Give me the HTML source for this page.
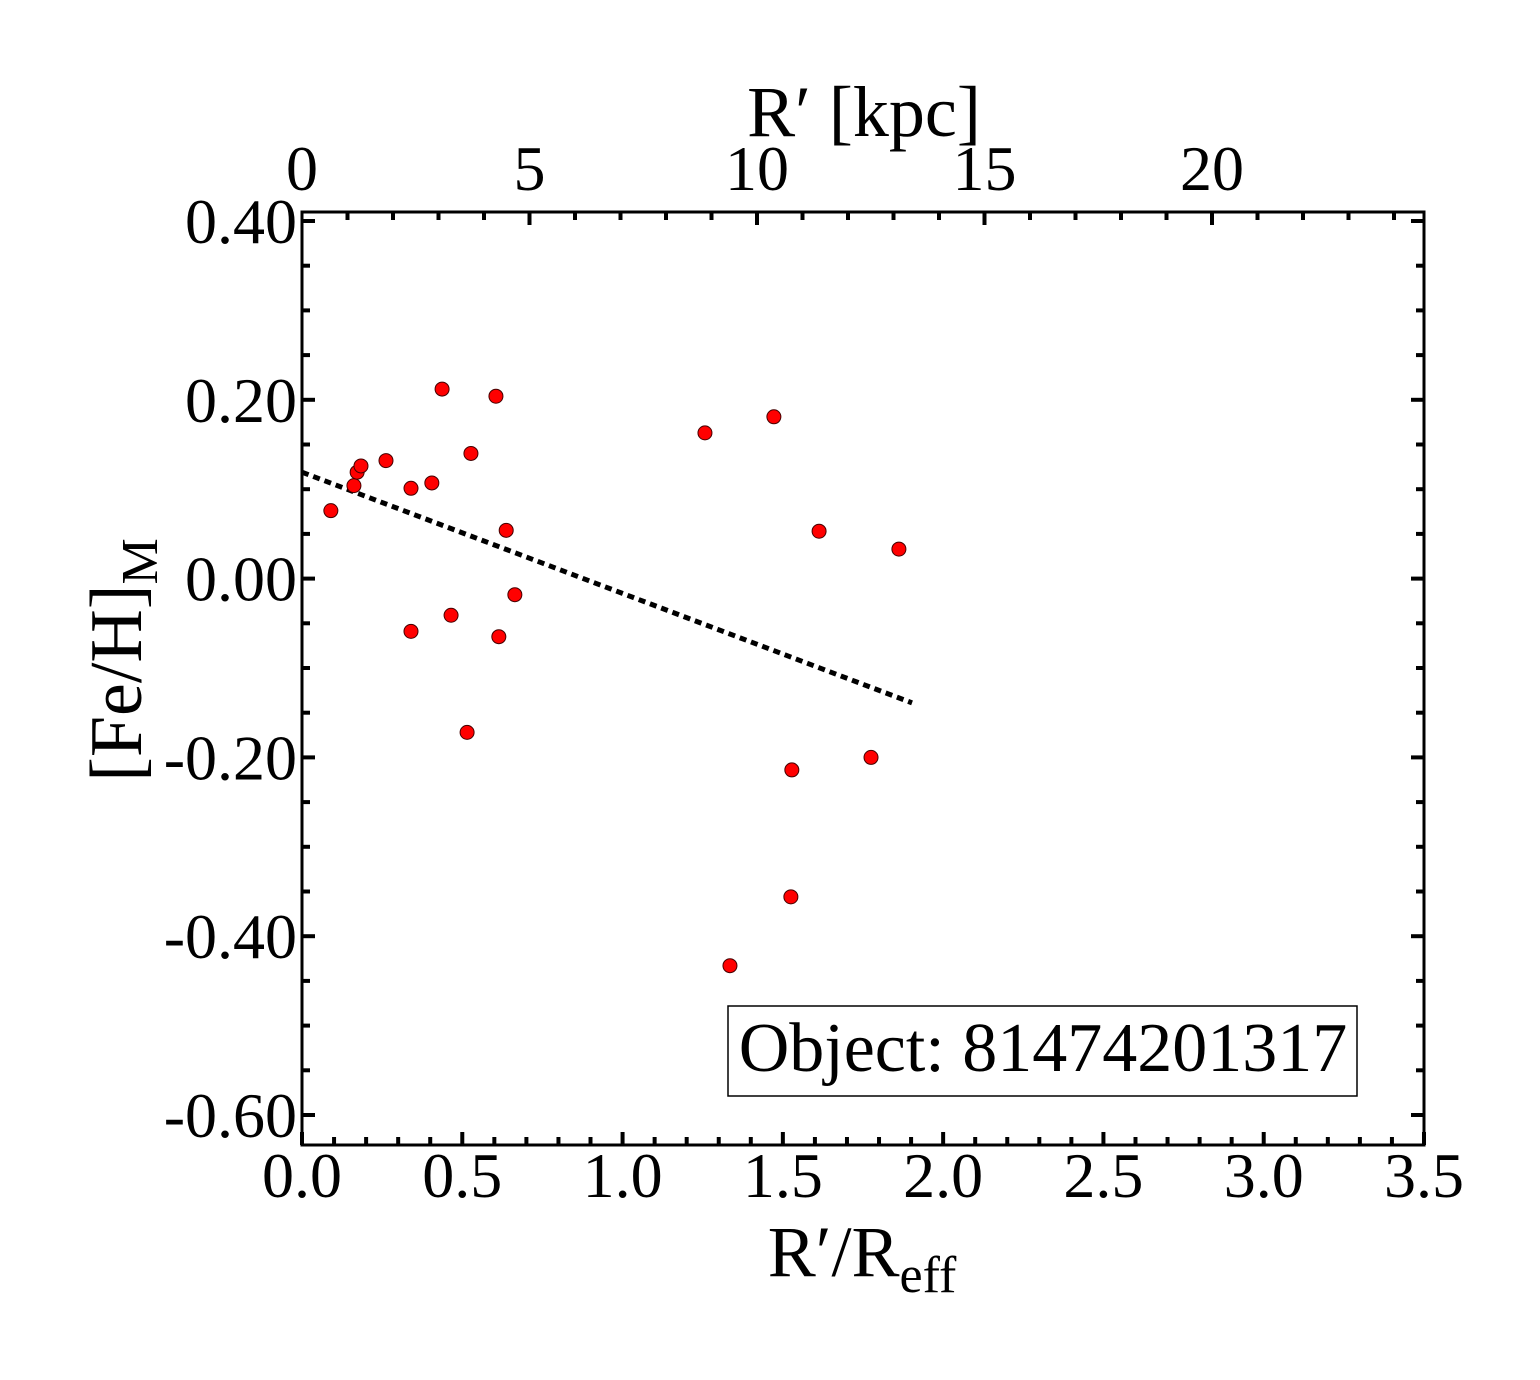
<!DOCTYPE html>
<html><head><meta charset="utf-8"><style>
body{margin:0;background:#fff}
svg text{font-family:"Liberation Serif",serif;fill:#000}
</style></head><body>
<svg id="chart" width="1540" height="1375" xmlns="http://www.w3.org/2000/svg">
<rect width="1540" height="1375" fill="#fff"/>
<g id="ticks"></g>
<g id="labels"></g>
<line id="fit" stroke="#000" stroke-width="5" stroke-dasharray="7,5"/>
<g id="pts"></g>
<rect x="302" y="212" width="1122" height="933" fill="none" stroke="#000" stroke-width="3"/>
<text x="864" y="136" font-size="72" text-anchor="middle">R′ [kpc]</text>
<text x="862" y="1276" font-size="72" text-anchor="middle">R′/R<tspan font-size="52" dy="16">eff</tspan></text>
<text transform="translate(141,660) rotate(-90)" font-size="74" text-anchor="middle">[Fe/H]<tspan font-size="52" dy="16">M</tspan></text>
<g>
<rect x="728" y="1006" width="629" height="90" fill="#fff" stroke="#000" stroke-width="1.5"/>
<text x="1043" y="1071" font-size="70" text-anchor="middle">Object: 81474201317</text>
</g>
</svg>
<script>
const xVals=[0.09,0.162,0.172,0.184,0.262,0.34,0.405,0.437,0.527,0.605,0.637,0.664,0.34,0.465,0.614,0.515,1.257,1.472,1.613,1.862,1.528,1.775,1.525,1.335];
const yVals=[0.076,0.104,0.119,0.126,0.132,0.101,0.107,0.212,0.14,0.204,0.054,-0.018,-0.059,-0.041,-0.065,-0.172,0.163,0.181,0.053,0.033,-0.214,-0.2,-0.356,-0.433];
const fitX=[0,1.903];
const fitY=[0.119,-0.139];
const xTicks=["0.0","0.5","1.0","1.5","2.0","2.5","3.0","3.5"];
const yTicks=["0.40","0.20","0.00","-0.20","-0.40","-0.60"];
const kpcTicks=["0","5","10","15","20"];
const NS="http://www.w3.org/2000/svg";
const L=302,R=1424,T=212,B=1145;
const xs=v=>L+v*(R-L)/3.5;
const ys=v=>578.6-v*894;
const ks=v=>L+v*45.5;
function mk(tag,attrs,parent){const e=document.createElementNS(NS,tag);for(const k in attrs)e.setAttribute(k,attrs[k]);parent.appendChild(e);return e;}
const tg=document.getElementById('ticks'),lg=document.getElementById('labels');
for(let i=0;i<=35;i++){const x=xs(i/10);const len=i%5===0?13:8;
 let a=mk('line',{x1:x,x2:x,y1:B,y2:B-len,stroke:'#000','stroke-width':4},tg);
 }
for(let i=1;i<=24;i++){const x=ks(i);if(x>R)break;const len=i%5===0?13:8;
 let a=mk('line',{x1:x,x2:x,y1:T,y2:T+len,stroke:'#000','stroke-width':4},tg);
 }
for(let v=-0.6;v<=0.41;v+=0.05){const y=ys(v);if(y<T||y>B)continue;const maj=Math.abs(Math.round(v*100)%20)<1;const len=maj?13:8;
 let a=mk('line',{x1:L,x2:L+len,y1:y,y2:y,stroke:'#000','stroke-width':4},tg);
 
 let b=mk('line',{x1:R,x2:R-len,y1:y,y2:y,stroke:'#000','stroke-width':4},tg);
 }
xTicks.forEach(t=>{const e=mk('text',{x:xs(parseFloat(t)),y:1197,'font-size':64,'text-anchor':'middle'},lg);e.textContent=t;
 });
yTicks.forEach(t=>{const e=mk('text',{x:297,y:ys(parseFloat(t))+22,'font-size':64,'text-anchor':'end'},lg);e.textContent=t;
 });
kpcTicks.forEach(t=>{const e=mk('text',{x:ks(parseFloat(t)),y:190,'font-size':64,'text-anchor':'middle'},lg);e.textContent=t;
 });
const f=document.getElementById('fit');
f.setAttribute('x1',xs(fitX[0]));f.setAttribute('y1',ys(fitY[0]));f.setAttribute('x2',xs(fitX[1]));f.setAttribute('y2',ys(fitY[1]));
const pg=document.getElementById('pts');
xVals.forEach((v,i)=>{const c=mk('circle',{cx:xs(v),cy:ys(yVals[i]),r:7,fill:'#f00',stroke:'#400','stroke-width':1},pg);
 
 });
</script>
</body></html>
